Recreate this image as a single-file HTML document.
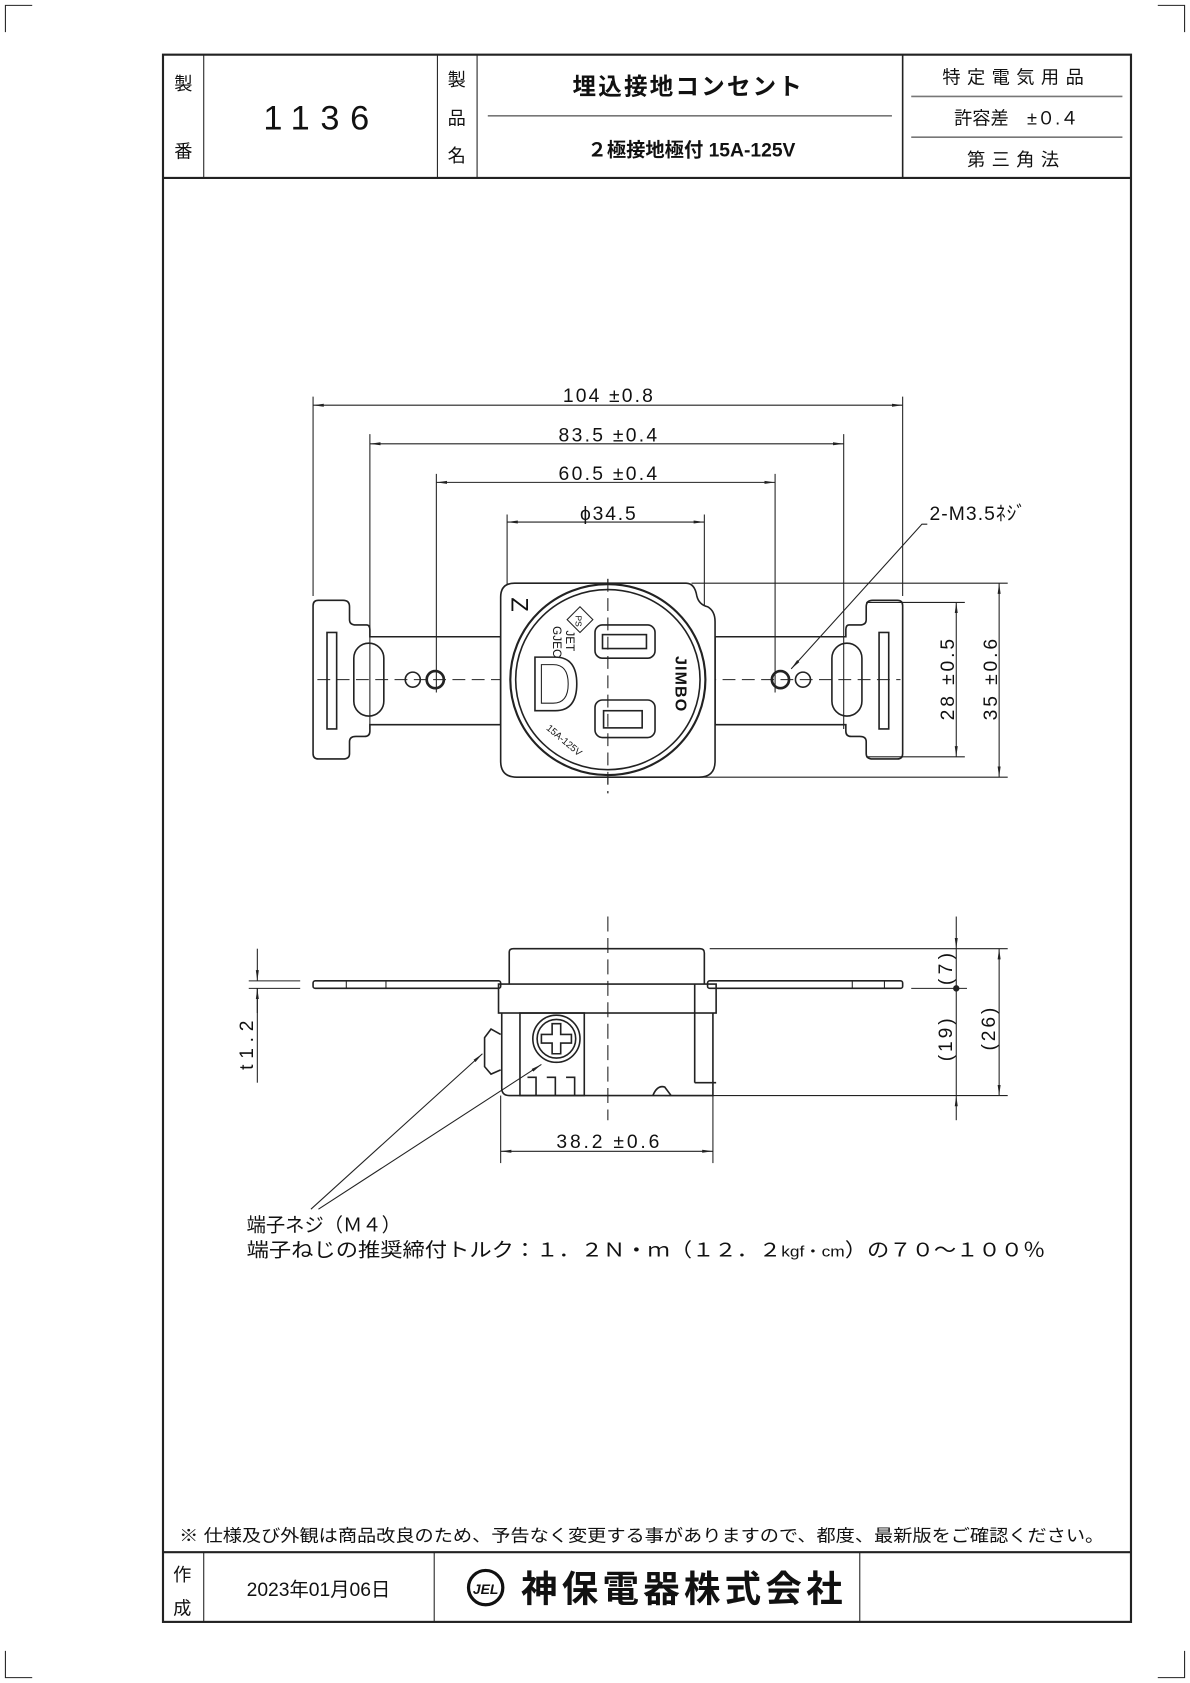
<!DOCTYPE html>
<html><head><meta charset="utf-8"><style>
html,body{margin:0;padding:0;background:#fff}
svg{display:block}
text{font-family:"Liberation Sans","Noto Sans CJK JP",sans-serif;fill:#111}
</style></head><body>
<svg width="1190" height="1683" viewBox="0 0 1110 1570" xmlns="http://www.w3.org/2000/svg">
<defs>
<marker id="a" viewBox="0 0 10 4" refX="10" refY="2" markerWidth="10" markerHeight="4" orient="auto-start-reverse" markerUnits="userSpaceOnUse"><path d="M0,0.6 L10,2 L0,3.4z" fill="#222"/></marker>
</defs>
<g stroke="#222" fill="none" stroke-width="1">
<path d="M5,30V5H30 M1080,5H1105V30 M5,1540V1565H30 M1080,1565H1105V1540"/>
<rect x="152" y="51" width="903" height="1462" stroke-width="2"/>
<line x1="152" y1="166" x2="1055" y2="166" stroke-width="2"/>
<line x1="190" y1="51" x2="190" y2="166"/>
<line x1="408" y1="51" x2="408" y2="166"/>
<line x1="445" y1="51" x2="445" y2="166"/>
<line x1="842" y1="51" x2="842" y2="166" stroke-width="1.5"/>
<line x1="455" y1="108" x2="832" y2="108" stroke="#777" stroke-width="1.5"/>
<line x1="850" y1="90" x2="1047" y2="90" stroke="#777" stroke-width="1.5"/>
<line x1="850" y1="128" x2="1047" y2="128" stroke="#777" stroke-width="1.5"/>
<line x1="152" y1="1448" x2="1055" y2="1448" stroke-width="2"/>
<line x1="190" y1="1448" x2="190" y2="1513"/>
<line x1="405" y1="1448" x2="405" y2="1513"/>
<line x1="802" y1="1448" x2="802" y2="1513"/>
</g>
<g font-size="17" text-anchor="middle">
<text x="171" y="84">製</text><text x="171" y="147">番</text>
<text x="426" y="80">製</text><text x="426" y="116">品</text><text x="426" y="151">名</text>
<text x="300" y="121" font-size="32" letter-spacing="10">1136</text>
<text x="642" y="88" font-size="22" font-weight="bold" letter-spacing="2">埋込接地コンセント</text>
<text x="645" y="146" font-size="18" font-weight="bold">２極接地極付 15A-125V</text>
<text x="948" y="78" letter-spacing="6">特定電気用品</text>
<text x="948" y="116">許容差　±０.４</text>
<text x="948" y="155" letter-spacing="6">第三角法</text>
<text x="170" y="1475">作</text><text x="170" y="1506">成</text>
<text x="297" y="1489" font-size="18">2023年01月06日</text>
<text x="638" y="1494" font-size="34" font-weight="bold" letter-spacing="4">神保電器株式会社</text>
</g>
<circle cx="453" cy="1481" r="16" fill="none" stroke="#111" stroke-width="3"/>
<text x="453" y="1487" font-size="13" font-weight="bold" text-anchor="middle" font-style="italic">JEL</text>
<text x="167" y="1438" font-size="16" textLength="863" lengthAdjust="spacingAndGlyphs">※ 仕様及び外観は商品改良のため、予告なく変更する事がありますので、都度、最新版をご確認ください。</text>

<g stroke="#222" fill="none" stroke-width="1">
<line x1="292" y1="370" x2="292" y2="556"/><line x1="842" y1="370" x2="842" y2="556"/>
<line x1="292" y1="378" x2="842" y2="378" marker-start="url(#a)" marker-end="url(#a)"/>
<line x1="345" y1="405" x2="345" y2="680"/><line x1="787" y1="405" x2="787" y2="680"/>
<line x1="345" y1="414" x2="787" y2="414" marker-start="url(#a)" marker-end="url(#a)"/>
<line x1="407" y1="442" x2="407" y2="646"/><line x1="723" y1="442" x2="723" y2="646"/>
<line x1="407" y1="450" x2="723" y2="450" marker-start="url(#a)" marker-end="url(#a)"/>
<line x1="473" y1="480" x2="473" y2="610"/><line x1="657" y1="480" x2="657" y2="610"/>
<line x1="473" y1="487" x2="657" y2="487" marker-start="url(#a)" marker-end="url(#a)"/>
<polyline points="865,489 860,489 738,624" marker-end="url(#a)"/>
<line x1="645" y1="544" x2="940" y2="544"/><line x1="645" y1="725" x2="940" y2="725"/>
<line x1="808" y1="562" x2="900" y2="562"/><line x1="808" y1="706" x2="900" y2="706"/>
<line x1="892" y1="562" x2="892" y2="706" marker-start="url(#a)" marker-end="url(#a)"/>
<line x1="932" y1="544" x2="932" y2="725" marker-start="url(#a)" marker-end="url(#a)"/>
<line x1="296" y1="634" x2="840" y2="634" stroke-dasharray="12,6"/>
<line x1="567" y1="540" x2="567" y2="740" stroke-dasharray="12,6"/>
<g stroke-width="1.5">
<path d="M297,560H320Q326,560 326,566V578Q326,583 332,583H342Q345,583 345,588V594H467V676H345V682Q345,687 340,687H332Q326,687 326,692V703Q326,708 320,708H297Q292,708 292,703V565Q292,560 297,560Z"/>
<path d="M837,560H814Q808,560 808,566V578Q808,583 802,583H792Q789,583 789,588V594H667V676H789V682Q789,687 794,687H802Q808,687 808,692V703Q808,708 814,708H837Q842,708 842,703V565Q842,560 837,560Z"/>
<rect x="305" y="590" width="9" height="90"/><rect x="820" y="590" width="9" height="90"/>
<rect x="330" y="600" width="28" height="68" rx="14"/><rect x="776" y="600" width="28" height="68" rx="14"/>
<circle cx="385" cy="634" r="7"/><circle cx="749" cy="634" r="7"/>
<circle cx="406" cy="634" r="8" stroke-width="2.5"/><circle cx="728" cy="634" r="8" stroke-width="2.5"/>
<path d="M480,544H640Q648,544 650,556Q652,564 660,566Q667,570 667,580V710Q667,725 652,725H482Q467,725 467,710V557Q467,544 480,544Z" fill="#fff"/>
<ellipse cx="567" cy="634" rx="91" ry="89" stroke-width="2"/>
<ellipse cx="567" cy="634" rx="86" ry="84"/>
<rect x="555" y="583" width="56" height="31" rx="7"/>
<rect x="562" y="592" width="41" height="13"/>
<rect x="555" y="653" width="56" height="35" rx="7"/>
<rect x="563" y="663" width="36" height="16"/>
<path d="M499,613H518Q538,613 538,638Q538,663 518,663H499Z"/>
<path d="M505,620H516Q530,620 530,638Q530,656 516,656H505Z" stroke-width="1"/>
<path d="M541,566L553,578L541,590L529,578Z" stroke-width="1"/>
</g>
<line x1="567" y1="540" x2="567" y2="740" stroke-dasharray="12,6"/>
</g>
<g font-size="12" fill="#111">
<text x="485" y="572" font-size="22" transform="rotate(90 485 564)" text-anchor="middle">Z</text>
<text x="0" y="0" transform="translate(630,612) rotate(90)" font-size="15" font-weight="bold" letter-spacing="1">JIMBO</text>
<text x="0" y="0" transform="translate(528,588) rotate(90)" font-size="11">JET</text>
<text x="0" y="0" transform="translate(516,584) rotate(90)" font-size="11">GJEC</text>
<text x="0" y="0" transform="translate(509,680) rotate(40)" font-size="9">15A-125V</text>
<text x="0" y="0" transform="translate(537,574) rotate(90)" font-size="8">PS</text>
</g>
<g font-size="18" text-anchor="middle">
<text x="567" y="375" textLength="84">104 ±0.8</text>
<text x="567" y="412" textLength="92">83.5 ±0.4</text>
<text x="567" y="448" textLength="92">60.5 ±0.4</text>
<text x="567" y="485" textLength="52">ϕ34.5</text>
<text x="912" y="485" textLength="90">2-M3.5ﾈｼﾞ</text>
<text transform="translate(890,634) rotate(-90)" textLength="76">28 ±0.5</text>
<text transform="translate(930,634) rotate(-90)" textLength="76">35 ±0.6</text>
</g>

<g stroke="#222" fill="none" stroke-width="1">
<line x1="567" y1="855" x2="567" y2="1045" stroke-dasharray="14,6"/>
<g stroke-width="1.5">
<path d="M475,918V888Q475,885 479,885H653Q657,885 657,889V918"/>
<rect x="292" y="915" width="175" height="7" rx="2"/>
<rect x="660" y="915" width="182" height="7" rx="2"/>
<rect x="465" y="918" width="203" height="27"/>
<path d="M468,945V1015Q468,1022 475,1022H665V945"/>
<line x1="648" y1="918" x2="648" y2="1010"/>
<line x1="648" y1="1010" x2="668" y2="1010"/>
<rect x="485" y="945" width="60" height="77"/>
<circle cx="519" cy="969" r="22"/>
<circle cx="519" cy="969" r="18"/>
<path d="M515,955H523V965H533V973H523V983H515V973H505V965H515Z"/>
<path d="M492,1005H500V1022M510,1005H518V1022M528,1005H536V1022"/>
<path d="M467,965L458,960L452,968V995L458,1002L467,998"/>
<path d="M609,1022Q613,1012 620,1014L626,1022"/>
</g>
<line x1="323" y1="915" x2="323" y2="922"/><line x1="360" y1="915" x2="360" y2="922"/>
<line x1="795" y1="915" x2="795" y2="922"/><line x1="825" y1="915" x2="825" y2="922"/>
<line x1="232" y1="915" x2="280" y2="915"/><line x1="232" y1="922" x2="280" y2="922"/>
<line x1="240" y1="885" x2="240" y2="915" marker-end="url(#a)"/>
<line x1="240" y1="945" x2="240" y2="922" marker-end="url(#a)"/>
<line x1="240" y1="922" x2="240" y2="1010"/>
<line x1="662" y1="885" x2="940" y2="885"/>
<line x1="850" y1="922" x2="902" y2="922"/>
<line x1="620" y1="1022" x2="940" y2="1022"/>
<line x1="892" y1="855" x2="892" y2="885" marker-end="url(#a)"/>
<line x1="892" y1="885" x2="892" y2="1022"/>
<line x1="892" y1="1045" x2="892" y2="1022" marker-end="url(#a)"/>
<circle cx="892" cy="922" r="2.5" fill="#222"/>
<line x1="932" y1="885" x2="932" y2="1022" marker-start="url(#a)" marker-end="url(#a)"/>
<line x1="467" y1="1022" x2="467" y2="1085"/><line x1="665" y1="1022" x2="665" y2="1085"/>
<line x1="467" y1="1074" x2="665" y2="1074" marker-start="url(#a)" marker-end="url(#a)"/>
<line x1="290" y1="1128" x2="450" y2="983" marker-end="url(#a)"/>
<line x1="297" y1="1128" x2="505" y2="993" marker-end="url(#a)"/>
</g>
<g font-size="18" text-anchor="middle">
<text x="567" y="1071" textLength="96">38.2 ±0.6</text>
<text transform="translate(236,975) rotate(-90)" textLength="46">t1.2</text>
<text transform="translate(888,904) rotate(-90)" textLength="30">(7)</text>
<text transform="translate(888,970) rotate(-90)" textLength="40">(19)</text>
<text transform="translate(928,960) rotate(-90)" textLength="40">(26)</text>
</g>
<text x="230" y="1149" font-size="18">端子ネジ（Ｍ４）</text>
<text x="230" y="1172" font-size="18" textLength="745" lengthAdjust="spacingAndGlyphs">端子ねじの推奨締付トルク：１．２Ｎ・ｍ（１２．２<tspan font-size="14">kgf・cm</tspan>）の７０～１００％</text>
</svg>
</body></html>
